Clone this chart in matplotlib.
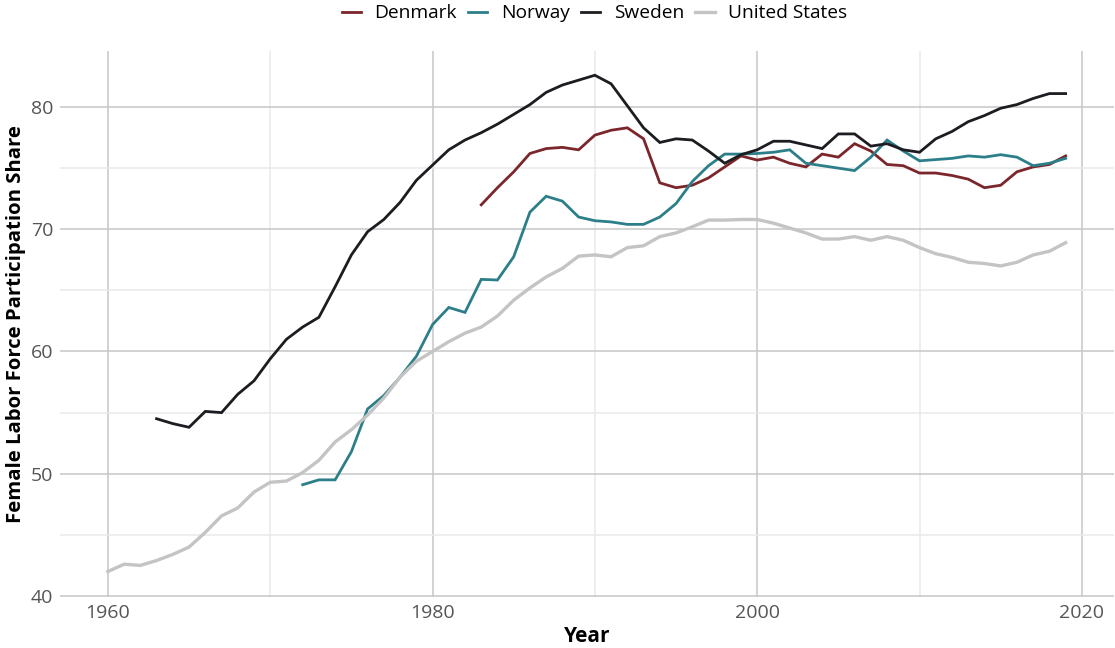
import matplotlib
matplotlib.use("Agg")
import matplotlib.pyplot as plt
from matplotlib.ticker import MultipleLocator
import numpy as np

plt.rcParams['font.family'] = ['Open Sans', 'DejaVu Sans']

us_years = list(range(1960, 2020))
us_values = [42.0, 42.6, 42.5, 42.9, 43.4, 44.0, 45.2, 46.55, 47.2, 48.5,
             49.3, 49.4, 50.1, 51.1, 52.6, 53.6, 54.8, 56.2, 57.9, 59.2,
             60.0, 60.8, 61.5, 62.0, 62.9, 64.2, 65.2, 66.1, 66.8, 67.8,
             67.9, 67.75, 68.5, 68.65, 69.4, 69.7, 70.2, 70.75, 70.75, 70.8,
             70.8, 70.5, 70.1, 69.7, 69.2, 69.2, 69.4, 69.1, 69.4, 69.1,
             68.5, 68.0, 67.7, 67.3, 67.2, 67.0, 67.3, 67.9, 68.2, 68.9]

sweden_years = list(range(1963, 2020))
sweden_values = [54.5, 54.1, 53.8, 55.1, 55.0, 56.5, 57.6, 59.4, 61.0, 62.0,
                 62.8, 65.3, 67.9, 69.8, 70.8, 72.2, 74.0, 75.25, 76.5, 77.3,
                 77.9, 78.6, 79.4, 80.2, 81.2, 81.8, 82.2, 82.6, 81.9, 80.1,
                 78.3, 77.1, 77.4, 77.3, 76.4, 75.4, 76.1, 76.5, 77.2, 77.2,
                 76.9, 76.6, 77.8, 77.8, 76.8, 77.0, 76.5, 76.3, 77.4, 78.0,
                 78.8, 79.3, 79.9, 80.2, 80.7, 81.1, 81.1]

norway_years = list(range(1972, 2020))
norway_values = [49.1, 49.5, 49.5, 51.8, 55.3, 56.4, 57.9, 59.6, 62.2, 63.6,
                 63.2, 65.9, 65.85, 67.75, 71.4, 72.7, 72.3, 71.0, 70.7, 70.6,
                 70.4, 70.4, 71.0, 72.1, 73.9, 75.2, 76.15, 76.15, 76.2, 76.3,
                 76.5, 75.4, 75.2, 75.0, 74.8, 75.9, 77.3, 76.4, 75.6, 75.7,
                 75.8, 76.0, 75.9, 76.1, 75.9, 75.2, 75.4, 75.8]

denmark_years = list(range(1983, 2020))
denmark_values = [72.0, 73.4, 74.7, 76.2, 76.6, 76.7, 76.5, 77.7, 78.1, 78.3,
                  77.4, 73.8, 73.4, 73.6, 74.2, 75.1, 76.0, 75.66, 75.9, 75.4,
                  75.1, 76.15, 75.9, 77.0, 76.4, 75.3, 75.2, 74.6, 74.6, 74.4,
                  74.1, 73.4, 73.6, 74.7, 75.1, 75.3, 76.0]

series = [
    ("Denmark", denmark_years, denmark_values, "#7a262b", 2.0),
    ("Norway", norway_years, norway_values, "#2c7f89", 2.0),
    ("Sweden", sweden_years, sweden_values, "#1c1c21", 2.0),
    ("United States", us_years, us_values, "#c4c4c4", 2.4),
]

fig = plt.figure(figsize=(11.15, 6.48), dpi=100)
W, H = 1115, 648
left, right, top, bottom = 60, 1113.5, 50.8, 596.7
ax = fig.add_axes([left / W, 1 - bottom / H, (right - left) / W, (bottom - top) / H])

handles = []
for name, xs, ys, col, lw in series:
    h, = ax.plot(xs, ys, color=col, lw=lw, label=name, solid_joinstyle='miter')
    handles.append(h)

ax.set_xlim(1957.05, 2021.95)
ax.set_ylim(39.94, 84.6)
ax.xaxis.set_major_locator(MultipleLocator(20))
ax.xaxis.set_minor_locator(MultipleLocator(10))
ax.yaxis.set_major_locator(MultipleLocator(10))
ax.yaxis.set_minor_locator(MultipleLocator(5))
ax.grid(which='major', color='#c6c6c6', lw=1.1)
ax.grid(which='minor', color='#e9e9e9', lw=1.1)
ax.set_axisbelow(True)
for s in ax.spines.values():
    s.set_visible(False)
ax.tick_params(which='both', length=0, labelsize=14, labelcolor='#555555', pad=5)

ax.set_xlabel("Year", fontsize=15, fontweight='bold', labelpad=3)
ax.set_ylabel("Female Labor Force Participation Share", fontsize=14.6, fontweight='bold', labelpad=3)

fig.legend(handles=handles, loc='upper center', bbox_to_anchor=(0.533, 1.02), ncol=4,
           frameon=False, fontsize=13.8, handlelength=1.0, handletextpad=0.7,
           columnspacing=0.6)

fig.savefig("out.png", dpi=100)
